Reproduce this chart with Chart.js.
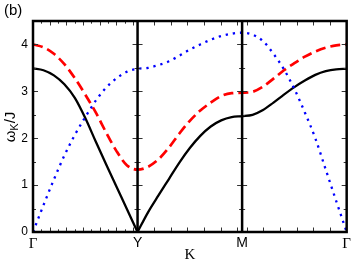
<!DOCTYPE html>
<html>
<head>
<meta charset="utf-8">
<script src="https://cdn.jsdelivr.net/npm/chart.js@4.4.1/dist/chart.umd.min.js"></script>
<style>
  html, body { margin: 0; padding: 0; background: #fff; }
  #wrap { width: 354px; height: 263px; position: relative; }
</style>
</head>
<body>
<div id="wrap"><canvas id="chart"></canvas></div>
<script>
// path coordinate, one unit per high-symmetry segment (Γ-Y, Y-M, M-Γ)
const pathPos = [0, 0.1, 0.2, 0.3, 0.4, 0.5, 0.6, 0.7, 0.8, 0.9, 1.0,
  1.1, 1.2, 1.3, 1.4, 1.5, 1.6, 1.7, 1.8, 1.9, 2.0,
  2.1, 2.2, 2.3, 2.4, 2.5, 2.6, 2.7, 2.8, 2.9, 3.0];

const omegaBlack = [3.49, 3.45, 3.34, 3.15, 2.86, 2.43, 1.93, 1.44, 0.96, 0.48, 0,
  0.42, 0.78, 1.13, 1.48, 1.79, 2.05, 2.25, 2.38, 2.45, 2.47,
  2.5, 2.6, 2.76, 2.93, 3.09, 3.23, 3.35, 3.43, 3.47, 3.48];

const omegaRed = [4.0, 3.94, 3.8, 3.58, 3.28, 2.93, 2.55, 2.12, 1.72, 1.42, 1.33,
  1.39, 1.55, 1.8, 2.1, 2.37, 2.59, 2.76, 2.9, 2.96, 2.97,
  2.99, 3.1, 3.27, 3.45, 3.6, 3.74, 3.85, 3.93, 3.98, 4.0];

const omegaBlue = [0, 0.57, 1.12, 1.63, 2.07, 2.45, 2.8, 3.08, 3.28, 3.42, 3.48,
  3.5, 3.56, 3.64, 3.76, 3.89, 4.0, 4.1, 4.18, 4.23, 4.25,
  4.21, 4.07, 3.8, 3.47, 3.05, 2.55, 2.0, 1.33, 0.66, 0];

const xTickLabels = ['Γ', 'Y', 'M', 'Γ'];
const yTickValues = [0, 1, 2, 3, 4];

const toPoints = (ys, from, to) =>
  pathPos.slice(from, to).map((x, i) => ({ x, y: ys[from + i] }));

// inward ticks on every panel edge, plus the (b) tag and the ω_K/J title
const panelFrame = {
  id: 'panelFrame',
  afterDatasetsDraw(chart) {
    const { ctx, chartArea: a, scales: { x, y } } = chart;
    ctx.save();
    ctx.strokeStyle = '#333';
    ctx.lineWidth = 1;
    ctx.beginPath();

    // y ticks every 0.5, on both sides of each panel edge
    for (let v = 0.5; v < 4.5; v += 0.5) {
      const py = Math.round(y.getPixelForValue(v)) + 0.5;
      const len = Number.isInteger(v) ? 5 : 3;
      [0, 1, 2, 3].forEach((b) => {
        const px = x.getPixelForValue(b);
        if (b < 3) { ctx.moveTo(px, py); ctx.lineTo(px + len, py); }
        if (b > 0) { ctx.moveTo(px, py); ctx.lineTo(px - len, py); }
      });
    }

    // x ticks: first panel every 0.25, others every 0.5 (in k units)
    const xt = [];
    for (let k = 0.25; k < Math.PI; k += 0.25) {
      xt.push({ v: k / Math.PI, len: (k * 2) % 1 === 0 ? 4.5 : 2.7 });
    }
    for (let k = 0.5; k < Math.PI; k += 0.5) {
      xt.push({ v: 1 + k / Math.PI, len: 4.5 });
      xt.push({ v: 3 - k / Math.PI, len: 4.5 });
    }
    xt.forEach(({ v, len }) => {
      const px = Math.round(x.getPixelForValue(v)) + 0.5;
      ctx.moveTo(px, a.top); ctx.lineTo(px, a.top + len);
      ctx.moveTo(px, a.bottom); ctx.lineTo(px, a.bottom - len);
    });
    ctx.stroke();

    ctx.strokeStyle = '#000';
    ctx.lineWidth = 2.5;
    ctx.strokeRect(a.left, a.top, a.right - a.left, a.bottom - a.top);
    ctx.beginPath();
    [1, 2].forEach((b) => {
      const px = x.getPixelForValue(b);
      ctx.moveTo(px, a.top);
      ctx.lineTo(px, a.bottom);
    });
    ctx.stroke();

    ctx.fillStyle = '#000';
    ctx.font = '15px "Liberation Sans", Arial, sans-serif';
    ctx.textBaseline = 'alphabetic';
    ctx.textAlign = 'left';
    ctx.fillText('(b)', 4, 15);

    // rotated y title with subscript K
    ctx.translate(15, 127);
    ctx.rotate(-Math.PI / 2);
    const big = '15px "Liberation Sans", Arial, sans-serif';
    const small = '11px "Liberation Sans", Arial, sans-serif';
    ctx.font = big;
    const w1 = ctx.measureText('ω').width;
    const w3 = ctx.measureText('/J').width;
    ctx.font = small;
    const w2 = ctx.measureText('K').width;
    let sx = -(w1 + w2 + w3) / 2;
    ctx.font = big;
    ctx.fillText('ω', sx, 0);
    sx += w1;
    ctx.font = small;
    ctx.fillText('K', sx, 3);
    sx += w2;
    ctx.font = big;
    ctx.fillText('/J', sx, 0);
    ctx.restore();
  }
};

const lineStyle = { fill: false, pointRadius: 0, cubicInterpolationMode: 'monotone', borderCapStyle: 'butt' };

new Chart(document.getElementById('chart'), {
  type: 'line',
  data: {
    datasets: [
      { ...lineStyle, data: toPoints(omegaBlue, 0, 31), borderColor: '#0000ff', borderWidth: 2.3, borderDash: [2.3, 4.9] },
      { ...lineStyle, data: toPoints(omegaRed, 0, 31), borderColor: '#ff0000', borderWidth: 2.7, borderDash: [10, 5] },
      { ...lineStyle, data: toPoints(omegaBlack, 0, 11), borderColor: '#000000', borderWidth: 2.3 },
      { ...lineStyle, data: toPoints(omegaBlack, 10, 31), borderColor: '#000000', borderWidth: 2.3 },
    ],
  },
  options: {
    responsive: true,
    maintainAspectRatio: false,
    animation: false,
    layout: { padding: { top: 21, right: 6, left: 0, bottom: 0 } },
    plugins: { legend: { display: false }, tooltip: { enabled: false } },
    scales: {
      x: {
        type: 'linear',
        min: 0,
        max: 3,
        grid: { display: false, drawTicks: false },
        border: { display: false },
        afterBuildTicks: (scale) => { scale.ticks = xTickLabels.map((_, i) => ({ value: i })); },
        afterFit: (scale) => { scale.height = 31; },
        ticks: {
          padding: 3,
          color: '#000',
          maxRotation: 0,
          autoSkip: false,
          callback: (value, index) => xTickLabels[index],
          font: (ctx) => (xTickLabels[ctx.index] === 'Γ'
            ? { family: '"Liberation Serif", "Times New Roman", serif', size: 15 }
            : { family: '"Liberation Sans", Arial, sans-serif', size: 14 }),
        },
        title: {
          display: true,
          text: 'K',
          color: '#000',
          padding: { top: 0, bottom: 0 },
          font: { family: '"Liberation Serif", "Times New Roman", serif', size: 15, lineHeight: 1 },
        },
      },
      y: {
        min: 0,
        max: 4.5,
        grid: { display: false, drawTicks: false },
        border: { display: false },
        afterBuildTicks: (scale) => { scale.ticks = yTickValues.map((v) => ({ value: v })); },
        afterFit: (scale) => { scale.width = 33; },
        ticks: {
          padding: 5,
          color: '#000',
          font: { family: '"Liberation Sans", Arial, sans-serif', size: 12 },
        },
      },
    },
  },
  plugins: [panelFrame],
});
</script>
</body>
</html>
